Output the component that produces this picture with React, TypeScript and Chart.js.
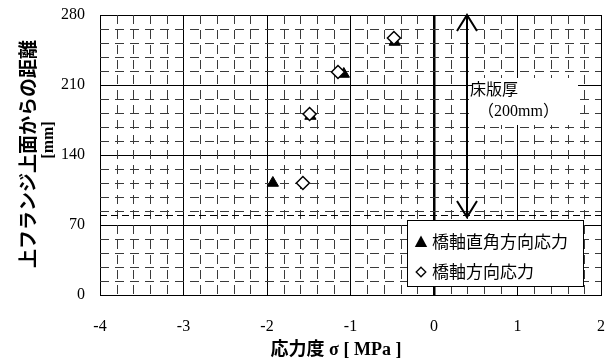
import React, { useEffect, useRef } from 'react';
import { Chart, registerables } from 'chart.js';

Chart.register(...registerables);

// ---- data ----
const perpX = [-1.93, -1.48, -1.08, -0.47];
const perpY = [112, 179, 221, 253];
const axialX = [-1.57, -1.49, -1.15, -0.48];
const axialY = [112, 181, 223, 257];
const perpLabel = '橋軸直角方向応力';
const axialLabel = '橋軸方向応力';
const xTitle = '応力度 σ [ MPa ]';
const yTitle = '上フランジ上面からの距離';
const yUnit = '[mm]';
const slabTop = 280;
const slabBottom = 80;
const arrowX = 0.4;
const slabLabel1 = '床版厚';
const slabLabel2 = '（200mm）';
const xMin = -4;
const xMax = 2;
const xStep = 1;
const xMinorStep = 0.2;
const yMin = 0;
const yMax = 280;
const yStep = 70;
const yMinorStep = 14;

const SERIF = '"Liberation Serif", "DejaVu Serif", "Noto Sans CJK JP", serif';
const JP = '"Noto Sans CJK JP", sans-serif';

function line(ctx: CanvasRenderingContext2D, x1: number, y1: number, x2: number, y2: number) {
  ctx.beginPath();
  ctx.moveTo(x1, y1);
  ctx.lineTo(x2, y2);
  ctx.stroke();
}

function tri(ctx: CanvasRenderingContext2D, cx: number, cy: number, r: number) {
  ctx.beginPath();
  ctx.moveTo(cx, cy - r);
  ctx.lineTo(cx + r * 0.95, cy + r * 0.75);
  ctx.lineTo(cx - r * 0.95, cy + r * 0.75);
  ctx.closePath();
  ctx.fill();
}

function diamond(ctx: CanvasRenderingContext2D, cx: number, cy: number, r: number) {
  ctx.beginPath();
  ctx.moveTo(cx, cy - r);
  ctx.lineTo(cx + r, cy);
  ctx.lineTo(cx, cy + r);
  ctx.lineTo(cx - r, cy);
  ctx.closePath();
  ctx.fill();
  ctx.stroke();
}

function zeroPad(s: any) {
  s.paddingTop = 0;
  s.paddingBottom = 0;
  s.paddingLeft = 0;
  s.paddingRight = 0;
}

const overlay = {
  id: 'overlay',
  beforeDatasetsDraw(chart: any) {
    const { ctx, chartArea: a, scales } = chart;
    const x = scales.x;
    const y = scales.y;
    ctx.save();
    ctx.strokeStyle = '#3a3a3a';
    ctx.lineWidth = 1;
    ctx.setLineDash([9, 6]);
    const nx = Math.round((xMax - xMin) / xMinorStep);
    for (let i = 1; i < nx; i++) {
      if (i % Math.round(xStep / xMinorStep) === 0) continue;
      const px = Math.round(x.getPixelForValue(xMin + i * xMinorStep)) + 0.5;
      line(ctx, px, a.top, px, a.bottom);
    }
    const ny = Math.round((yMax - yMin) / yMinorStep);
    for (let j = 1; j < ny; j++) {
      if (j % Math.round(yStep / yMinorStep) === 0) continue;
      const py = Math.round(y.getPixelForValue(yMin + j * yMinorStep)) + 0.5;
      line(ctx, a.left, py, a.right, py);
    }
    // slab bottom line
    ctx.strokeStyle = '#000';
    ctx.setLineDash([7, 4]);
    const pb = Math.round(y.getPixelForValue(slabBottom)) + 0.5;
    line(ctx, a.left, pb, a.right, pb);
    ctx.restore();
  },
  afterDatasetsDraw(chart: any) {
    const { ctx, scales } = chart;
    const x = scales.x;
    const y = scales.y;
    ctx.save();
    // label box
    ctx.fillStyle = '#fff';
    ctx.fillRect(472, 78, 106, 47);
    ctx.fillStyle = '#000';
    ctx.textBaseline = 'middle';
    ctx.textAlign = 'left';
    ctx.font = `16px ${JP}`;
    ctx.fillText(slabLabel1, 470, 89);
    ctx.font = `16px ${SERIF}`;
    ctx.fillText(slabLabel2, 478, 112);

    // arrow
    const ax = Math.round(x.getPixelForValue(arrowX));
    const ay1 = y.getPixelForValue(slabTop);
    const ay2 = y.getPixelForValue(slabBottom) + 2;
    ctx.strokeStyle = '#000';
    ctx.lineWidth = 2;
    line(ctx, ax, ay1, ax, ay2);
    ctx.beginPath();
    ctx.moveTo(ax - 10, ay1 + 16);
    ctx.lineTo(ax, ay1);
    ctx.lineTo(ax + 10, ay1 + 16);
    ctx.stroke();
    ctx.beginPath();
    ctx.moveTo(ax - 10, ay2 - 16);
    ctx.lineTo(ax, ay2);
    ctx.lineTo(ax + 10, ay2 - 16);
    ctx.stroke();

    // legend
    ctx.lineWidth = 1;
    ctx.fillStyle = '#fff';
    ctx.fillRect(407.5, 220.5, 176, 66);
    ctx.strokeRect(407.5, 220.5, 176, 66);
    ctx.fillStyle = '#000';
    tri(ctx, 421, 242, 6.5);
    ctx.fillStyle = '#fff';
    ctx.lineWidth = 1.3;
    diamond(ctx, 421, 272, 4.8);
    ctx.fillStyle = '#000';
    ctx.font = `17px ${JP}`;
    ctx.fillText(perpLabel, 432, 242);
    ctx.fillText(axialLabel, 432, 272);
    ctx.restore();
  },
  afterDraw(chart: any) {
    const { ctx } = chart;
    ctx.save();
    ctx.fillStyle = '#000';
    ctx.textAlign = 'center';
    ctx.textBaseline = 'middle';
    ctx.font = `bold 18px ${SERIF}`;
    ctx.fillText(xTitle, 336, 350);
    ctx.save();
    ctx.translate(28, 154);
    ctx.rotate(-Math.PI / 2);
    ctx.font = `bold 19px ${JP}`;
    ctx.fillText(yTitle, 0, 0);
    ctx.restore();
    ctx.save();
    ctx.translate(49, 140);
    ctx.rotate(-Math.PI / 2);
    ctx.font = `bold 16px ${SERIF}`;
    ctx.fillText(yUnit, 0, 0);
    ctx.restore();
    ctx.restore();
  },
};

export default function App() {
  const ref = useRef<HTMLCanvasElement | null>(null);
  useEffect(() => {
    if (!ref.current) return;
    const chart = new Chart(ref.current, {
      type: 'scatter',
      data: {
        datasets: [
          {
            label: perpLabel,
            data: perpX.map((v, i) => ({ x: v, y: perpY[i] })),
            pointStyle: 'triangle',
            pointRadius: 6.5,
            backgroundColor: '#000',
            borderColor: '#000',
            borderWidth: 1,
            order: 1,
          },
          {
            label: axialLabel,
            data: axialX.map((v, i) => ({ x: v, y: axialY[i] })),
            pointStyle: 'rectRot',
            pointRadius: 6.5,
            backgroundColor: '#fff',
            borderColor: '#000',
            borderWidth: 1.5,
            order: 0,
          },
        ],
      },
      options: {
        animation: false,
        responsive: true,
        maintainAspectRatio: false,
        layout: { padding: { left: 0, top: 15, right: 12, bottom: 0 } },
        plugins: {
          legend: { display: false },
          tooltip: { enabled: false },
          title: { display: false },
        },
        scales: {
          x: {
            type: 'linear',
            min: xMin,
            max: xMax,
            afterFit: (s: any) => { s.height = 65; zeroPad(s); },
            ticks: {
              stepSize: xStep,
              color: '#000',
              padding: 22,
              font: { family: SERIF, size: 16 },
              callback: (v: any) => String(v),
            },
            grid: {
              color: '#000',
              lineWidth: (c: any) => (c.tick && c.tick.value === 0 ? 2.5 : 1),
              drawTicks: false,
            },
            border: { display: true, color: '#000', width: 1 },
          },
          y: {
            type: 'linear',
            min: yMin,
            max: yMax,
            afterFit: (s: any) => { s.width = 100; zeroPad(s); },
            ticks: {
              stepSize: yStep,
              color: '#000',
              padding: 15,
              font: { family: SERIF, size: 16 },
            },
            grid: { color: '#000', lineWidth: 1, drawTicks: false },
            border: { display: true, color: '#000', width: 1 },
          },
        },
      },
      plugins: [overlay],
    } as any);
    return () => chart.destroy();
  }, []);
  return (
    <div style={{ position: 'absolute', left: 0, top: 0, width: 613, height: 360, background: '#fff' }}>
      <canvas ref={ref} />
    </div>
  );
}
